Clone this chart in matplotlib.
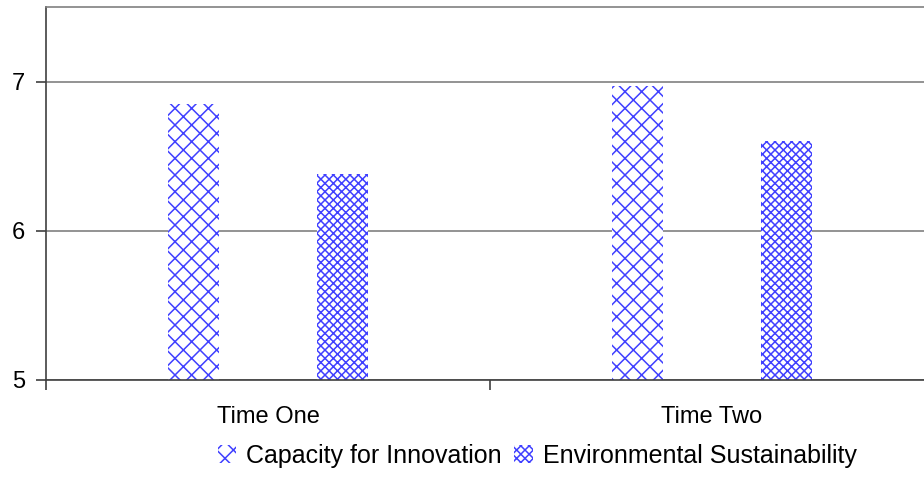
import matplotlib.pyplot as plt
import matplotlib as mpl
import numpy as np

plt.rcParams['font.family'] = ['Liberation Sans', 'DejaVu Sans']
mpl.rcParams['hatch.color'] = '#4040ff'
mpl.rcParams['hatch.linewidth'] = 1.1

periods = ['Time One', 'Time Two']
innovation = [6.85, 6.97]
sustainability = [6.38, 6.60]

fig = plt.figure(figsize=(9.24, 4.97), dpi=100)
ax = fig.add_axes([46 / 924, 117 / 497, 888 / 924, 373 / 497])

x = np.arange(len(periods))
w = 0.115
ax.bar(x - 0.167, innovation, w, color='white', hatch='xx', edgecolor='#4040ff',
       linewidth=0, label='Capacity for Innovation')
ax.bar(x + 0.167, sustainability, w, color='white', hatch='xxxx', edgecolor='#4040ff',
       linewidth=0, label='Environmental Sustainability')

ax.set_ylim(5, 7.5)
ax.set_xlim(-0.5, 1.5)
ax.set_yticks([5, 6, 7])
ax.yaxis.grid(True, color='#808080', linewidth=1.2)
ax.set_axisbelow(True)

# category labels in the middle, tick marks on the boundaries
ax.set_xticks(x)
ax.set_xticklabels(periods)
ax.set_xticks([-0.5, 0.5, 1.5], minor=True)
ax.tick_params(axis='x', which='major', length=0, pad=19, labelsize=17)
ax.tick_params(axis='x', which='minor', length=7, color='#404040', width=1.2)
ax.tick_params(axis='y', length=7, color='#404040', width=1.2, labelsize=17, pad=8)

ax.spines['left'].set_color('#404040')
ax.spines['left'].set_linewidth(1.2)
ax.spines['bottom'].set_color('#404040')
ax.spines['bottom'].set_linewidth(1.2)
ax.spines['top'].set_color('#808080')
ax.spines['top'].set_linewidth(1.2)
ax.spines['right'].set_visible(False)

leg = fig.legend(loc='center left', bbox_to_anchor=(205 / 924, 1 - 456 / 497), ncol=2,
                 frameon=False, fontsize=18, handlelength=0.75, handleheight=0.75,
                 handletextpad=0.4, columnspacing=0.5, borderpad=0)

fig.savefig('out.png', dpi=100)
